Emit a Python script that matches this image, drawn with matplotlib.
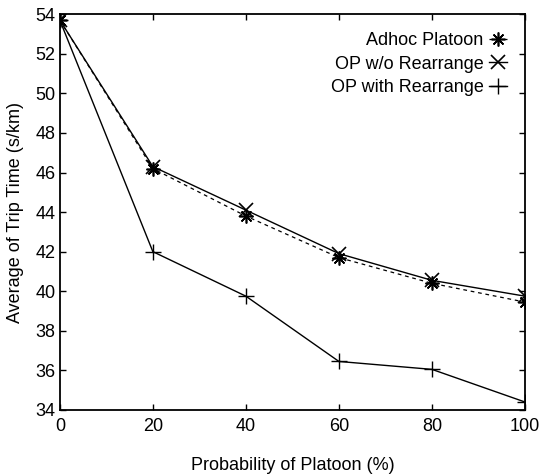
import matplotlib
matplotlib.use("Agg")
import matplotlib.pyplot as plt

plt.rcParams['font.family'] = ['Liberation Sans', 'DejaVu Sans']

prob = [0, 20, 40, 60, 80, 100]
adhoc = [53.7, 46.2, 43.8, 41.7, 40.4, 39.45]
op_wo = [53.7, 46.3, 44.1, 41.9, 40.55, 39.75]
op_with = [53.7, 42.0, 39.75, 36.45, 36.05, 34.4]
xticks = [0, 20, 40, 60, 80, 100]
yticks = [34, 36, 38, 40, 42, 44, 46, 48, 50, 52, 54]

fig = plt.figure(figsize=(5.39, 4.75), dpi=100)
ax = fig.add_axes([0.111, 0.137, 0.863, 0.833])

ax.plot(prob, adhoc, color='black', linestyle=(0, (3, 3)), linewidth=0.9,
        marker=(8, 2, 0), markersize=10, markeredgewidth=1.2, label='Adhoc Platoon')
ax.plot(prob, op_wo, color='black', linestyle='-', linewidth=1.0,
        marker='x', markersize=10, markeredgewidth=1.2, label='OP w/o Rearrange')
ax.plot(prob, op_with, color='black', linestyle='-', linewidth=1.0,
        marker='+', markersize=11, markeredgewidth=1.0, label='OP with Rearrange')

ax.set_xlim(0, 100)
ax.set_ylim(34, 54)
ax.set_xticks(xticks)
ax.set_yticks(yticks)
ax.tick_params(direction='in', top=True, right=True, length=4, width=1, labelsize=13)
ax.tick_params(axis='x', pad=6)
ax.tick_params(axis='y', pad=3)
for s in ax.spines.values():
    s.set_linewidth(1.3)

ax.set_xlabel('Probability of Platoon (%)', fontsize=13, labelpad=16)
ax.set_ylabel('Average of Trip Time (s/km)', fontsize=13, labelpad=8)

ax.legend(loc='upper right', frameon=False, markerfirst=False, fontsize=13,
          handlelength=1.0, handletextpad=0.3, labelspacing=0.35,
          borderaxespad=0.6)

fig.savefig('out.png', dpi=100)
